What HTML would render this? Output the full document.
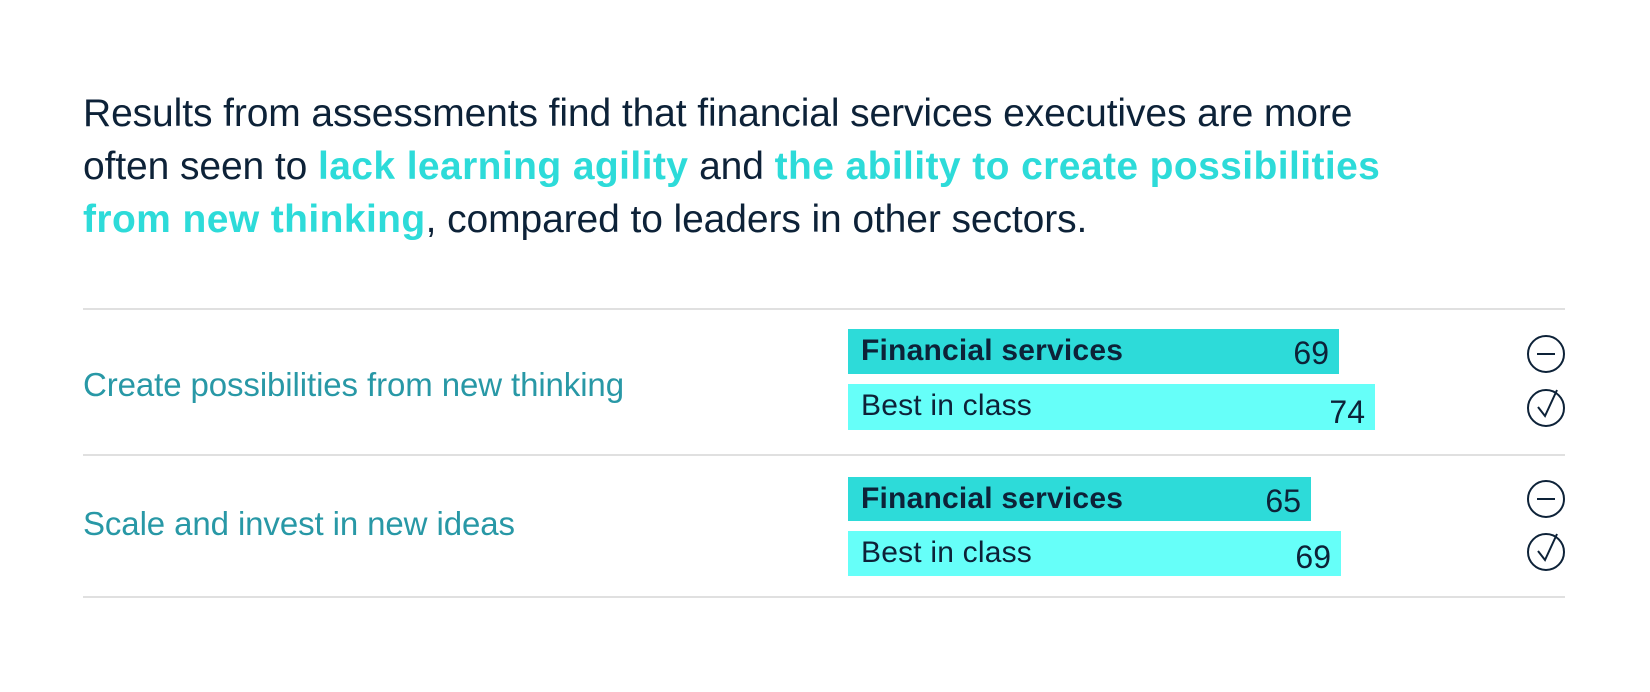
<!DOCTYPE html>
<html><head><meta charset="utf-8"><style>
body{margin:0;width:1650px;height:692px;background:#fff;position:relative;font-family:"Liberation Sans",sans-serif;color:#0d2238;overflow:hidden}
.h{position:absolute;left:83px;top:87px;font-size:39px;line-height:53px;white-space:nowrap;letter-spacing:-0.1px}
.h b{color:#2ddbd9;letter-spacing:0.4px}
.ln{position:absolute;left:83px;width:1482px;height:2px;background:#e0e0e0}
.lab{position:absolute;left:83px;font-size:33px;color:#2898a6;letter-spacing:-0.1px}
.bar{position:absolute;left:848px;font-size:30px;line-height:44px;box-sizing:border-box;padding-left:13px;letter-spacing:0.2px}
.bar span{position:absolute;right:10px;top:2px;font-size:32px;letter-spacing:0}
.fs{background:#2ddbd9;font-weight:bold}
.fs span{font-weight:normal}
.bc{background:#66fff9}
svg{position:absolute;left:1526px}
</style></head><body>
<div class="h">Results from assessments find that financial services executives are more<br>often seen to <b>lack learning agility</b> and <b>the ability to create possibilities</b><br><b>from new thinking</b>, compared to leaders in other sectors.</div>
<div class="ln" style="top:308px"></div>
<div class="ln" style="top:454px"></div>
<div class="ln" style="top:596px"></div>
<div class="lab" style="top:366px">Create possibilities from new thinking</div>
<div class="lab" style="top:505px">Scale and invest in new ideas</div>
<div class="bar fs" style="top:329px;width:491px;height:45px">Financial services<span>69</span></div>
<div class="bar bc" style="top:384px;width:527px;height:46px">Best in class<span style="top:6px">74</span></div>
<div class="bar fs" style="top:477px;width:463px;height:44px">Financial services<span>65</span></div>
<div class="bar bc" style="top:531px;width:493px;height:45px">Best in class<span style="top:4px">69</span></div>
<svg style="top:334px" width="40" height="40"><circle cx="20" cy="20" r="18" fill="none" stroke="#0d2238" stroke-width="2"/><line x1="11" y1="20" x2="29" y2="20" stroke="#0d2238" stroke-width="2"/></svg>
<svg style="top:384px" width="40" height="44"><circle cx="20" cy="24" r="18" fill="none" stroke="#0d2238" stroke-width="2"/><polyline points="12,23 19,32 31,6" fill="none" stroke="#0d2238" stroke-width="2"/></svg>
<svg style="top:479px" width="40" height="40"><circle cx="20" cy="20" r="18" fill="none" stroke="#0d2238" stroke-width="2"/><line x1="11" y1="20" x2="29" y2="20" stroke="#0d2238" stroke-width="2"/></svg>
<svg style="top:528px" width="40" height="44"><circle cx="20" cy="24" r="18" fill="none" stroke="#0d2238" stroke-width="2"/><polyline points="12,23 19,32 31,6" fill="none" stroke="#0d2238" stroke-width="2"/></svg>
</body></html>
